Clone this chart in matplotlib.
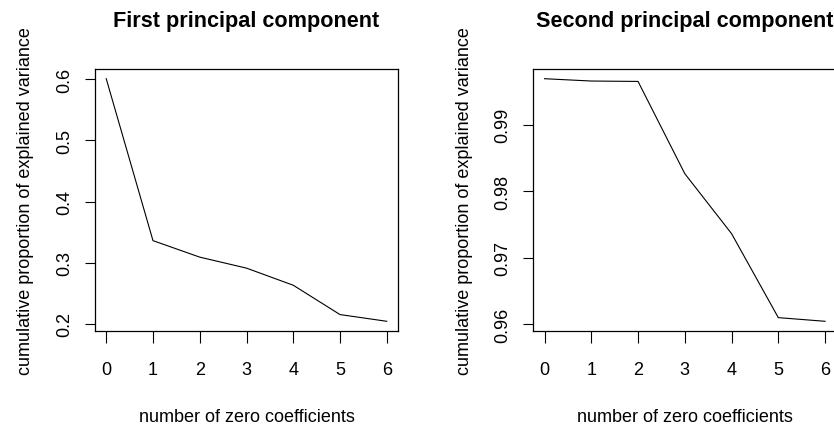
import matplotlib
matplotlib.use('Agg')
import matplotlib.pyplot as plt

plt.rcParams['font.family'] = ['Liberation Sans', 'DejaVu Sans']

# number of zero coefficients
n_zero = [0, 1, 2, 3, 4, 5, 6]

# cumulative proportion of explained variance
first_pc = [0.601, 0.336, 0.309, 0.291, 0.263, 0.215, 0.204]
second_pc = [0.9969, 0.99655, 0.99649, 0.98263, 0.97362, 0.9610, 0.96045]

first_yticks = [0.2, 0.3, 0.4, 0.5, 0.6]
second_yticks = [0.96, 0.97, 0.98, 0.99]

titles = ['First principal component', 'Second principal component']
xlab = 'number of zero coefficients'
ylab = 'cumulative proportion of explained variance'

W, H = 834, 431
fig = plt.figure(figsize=(W / 100, H / 100), dpi=100)

panels = [
    (95, first_pc, first_yticks, ['0.2', '0.3', '0.4', '0.5', '0.6']),
    (533.3, second_pc, second_yticks, ['0.96', '0.97', '0.98', '0.99']),
]

for i, (x0, vals, yt, ytl) in enumerate(panels):
    # axes box in pixels: width 303, top 70, bottom 332
    ax = fig.add_axes([x0 / W, (H - 332) / H, 303 / W, 262 / H])
    ax.plot(n_zero, vals, color='black', linewidth=0.8)

    # R style 4% padding
    lo, hi = min(vals), max(vals)
    pad = (hi - lo) * 0.04
    ax.set_ylim(lo - pad, hi + pad)
    ax.set_xlim(-0.24, 6.24)

    ax.set_xticks(n_zero)
    ax.set_xticklabels([str(v) for v in n_zero])
    ax.set_yticks(yt)
    ax.set_yticklabels(ytl, rotation=90, va='center')

    ax.tick_params(direction='out', width=0.8, labelsize=13, color='black')
    ax.tick_params(axis='x', length=8.5, pad=13)
    ax.tick_params(axis='y', length=7.2, pad=8.6)
    for s in ax.spines.values():
        s.set_linewidth(0.9)

    cx = (x0 + 151.5) / W
    fig.text(cx, (H - 22) / H, titles[i], ha='center', va='center',
             fontsize=15.6, fontweight='bold')
    fig.text(cx, (H - 418) / H, xlab, ha='center', va='center', fontsize=13)
    fig.text((x0 - 69) / W, (H - 201) / H, ylab, ha='center', va='center',
             rotation=90, fontsize=13)

fig.savefig('out.png', dpi=100)
